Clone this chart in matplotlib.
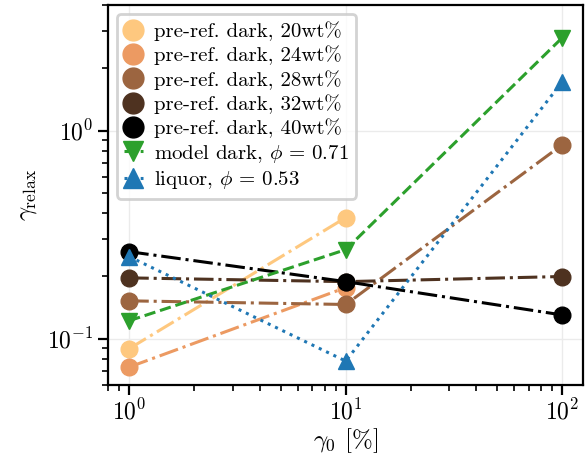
import matplotlib
matplotlib.use("Agg")
import matplotlib.pyplot as plt

plt.rcParams['font.family'] = 'serif'
plt.rcParams['font.serif'] = ['cmr10']
plt.rcParams['mathtext.fontset'] = 'cm'
plt.rcParams['axes.formatter.use_mathtext'] = True
plt.rcParams['axes.unicode_minus'] = False

strain = [1, 10, 100]

pre20 = [0.0895, 0.382]
pre24 = [0.073, 0.176]
pre28 = [0.152, 0.146, 0.856]
pre32 = [0.196, 0.188, 0.199]
pre40 = [0.262, 0.188, 0.130]
model_dark = [0.122, 0.268, 2.8]
liquor = [0.248, 0.078, 1.72]

labels = ["pre-ref. dark, 20wt%", "pre-ref. dark, 24wt%", "pre-ref. dark, 28wt%",
          "pre-ref. dark, 32wt%", "pre-ref. dark, 40wt%",
          r"model dark, $\phi$ = 0.71", r"liquor, $\phi$ = 0.53"]
colors = ['#fec87f', '#ec9a62', '#9c6540', '#4e3220', '#000000', '#2ca02c', '#1f77b4']

fig = plt.figure(figsize=(5.85, 4.57), dpi=100)
ax = fig.add_axes([0.185, 0.158, 0.812, 0.83])

pre = [pre20, pre24, pre28, pre32, pre40]
for i, ys in enumerate(pre):
    ax.plot(strain[:len(ys)], ys, ls='-.', marker='o', color=colors[i], lw=2.2,
            ms=12, label=labels[i])
ax.plot(strain, model_dark, ls='--', marker='v', color=colors[5], lw=2.2, ms=12, label=labels[5])
ax.plot(strain, liquor, ls=':', marker='^', color=colors[6], lw=2.2, ms=12, label=labels[6])

ax.set_xscale('log')
ax.set_yscale('log')
ax.set_xlim(0.8, 125)
ax.set_ylim(0.06, 4.0)
ax.grid(True, which='major', color='#ebebeb', lw=1)
ax.set_axisbelow(True)
for s in ax.spines.values():
    s.set_linewidth(1.6)
ax.tick_params(which='major', direction='out', length=7, width=1.6, labelsize=17)
ax.tick_params(which='minor', direction='out', length=4, width=1.2)

ax.set_xlabel(r'$\gamma_0$ [%]', fontsize=18, labelpad=1)
ax.set_ylabel(r'$\gamma_\mathrm{relax}$', fontsize=18, labelpad=6)

leg = ax.legend(loc='upper left', fontsize=15, frameon=True, fancybox=True,
                handlelength=0.9, handletextpad=0.55, borderpad=0.35, labelspacing=0.22,
                markerscale=1.25, borderaxespad=0.4)
leg.get_frame().set_edgecolor('#c8c8c8')
leg.get_frame().set_linewidth(2)

fig.savefig('out.png', dpi=100)
